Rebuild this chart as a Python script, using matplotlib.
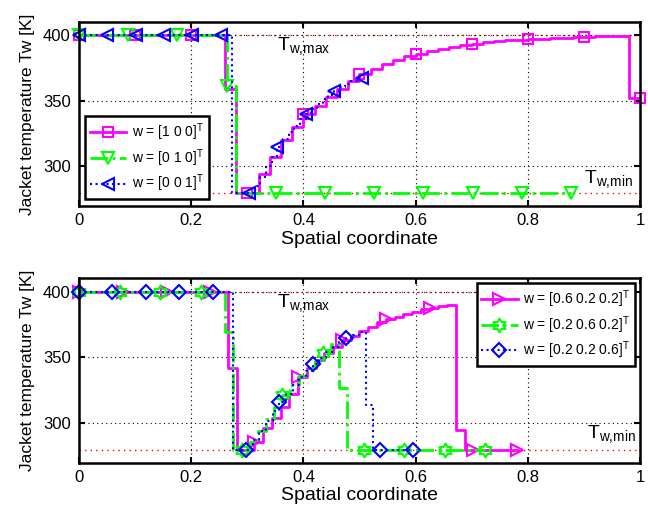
import numpy as np
import matplotlib
matplotlib.use('Agg')
import matplotlib.pyplot as plt
from matplotlib.path import Path

plt.rcParams['font.family'] = ['Liberation Sans', 'DejaVu Sans']
plt.rcParams['mathtext.fontset'] = 'custom'
plt.rcParams['mathtext.rm'] = 'Liberation Sans'
plt.rcParams['mathtext.it'] = 'Liberation Sans'
plt.rcParams['mathtext.default'] = 'regular'

T_MAX = 400
T_MIN = 280

# ---------------- top panel data (piecewise-constant, cell values) ----------------
top_m_den = 50   # grid divisions for w=[1 0 0]
top_m = [400, 400, 400, 400, 400, 400, 400, 400, 400, 400, 400, 400, 400,
         359, 280, 280, 294, 307.5, 320, 330, 339.5, 346, 352.5, 359, 365, 370,
         374, 378, 381, 384, 385.5, 387.5, 389.3, 390.6, 391.9, 393.2, 394.4,
         395.4, 395.9, 396.2, 396.5, 397, 397.4, 397.8, 398.2, 398.6, 398.9,
         399.1, 399.3, 352]

top_g_den = 57   # w=[0 1 0]
top_g = [400, 400, 400, 400, 400, 400, 400, 400, 400, 400, 400, 400, 400, 400, 400,
         361, 280, 280, 280, 280, 280, 280, 280, 280, 280, 280, 280, 280, 280, 280,
         280, 280, 280, 280, 280, 280, 280, 280, 280, 280, 280, 280, 280, 280, 280,
         280, 280, 280, 280, 280]

top_b_den = 99   # w=[0 0 1]
top_b = [400, 400, 400, 400, 400, 400, 400, 400, 400, 400, 400, 400, 400, 400, 400,
         400, 400, 400, 400, 400, 400, 400, 400, 400, 400, 400, 400,
         280, 280, 280, 280, 285, 292, 300, 307, 314.5, 320.5, 326, 331, 336, 340,
         344, 347.5, 351, 354.5, 357.5, 360.5, 363, 365, 367]

# ---------------- bottom panel data ----------------
bot_m_den = 64   # w=[0.6 0.2 0.2]
bot_m = [400, 400, 400, 400, 400, 400, 400, 400, 400, 400, 400, 400, 400, 400, 400,
         400, 400, 342, 280, 280, 286, 296, 304, 312, 322, 335, 342, 348, 353, 358,
         363, 366, 370, 373.4, 376.5, 379, 381, 382.8, 384.8, 387, 387.5, 389, 390,
         295, 280, 280, 280, 280, 280, 280]

bot_g_den = 69   # w=[0.2 0.6 0.2]
bot_g = [400, 400, 400, 400, 400, 400, 400, 400, 400, 400, 400, 400, 400, 400, 400,
         400, 400, 400, 369, 280, 280, 286, 294, 303, 312, 321.5, 329, 336, 342, 347.5,
         353, 360, 327, 280, 280, 280, 280, 280, 280, 280, 280, 280, 280, 280, 280,
         280, 280, 280, 280, 280]

bot_b_den = 84   # w=[0.2 0.2 0.6]
bot_b = [400, 400, 400, 400, 400, 400, 400, 400, 400, 400, 400, 400, 400, 400, 400,
         400, 400, 400, 400, 400, 400, 400, 400, 280, 280, 280, 287, 294, 302, 309,
         316, 322.5, 329, 335, 340, 345, 349.5, 354, 358, 361.5, 364.5, 367, 369,
         314, 280, 280, 280, 280, 280, 280]

top_labels = ['w = [1 0 0]$^T$', 'w = [0 1 0]$^T$', 'w = [0 0 1]$^T$']
bot_labels = ['w = [0.6 0.2 0.2]$^T$', 'w = [0.2 0.6 0.2]$^T$', 'w = [0.2 0.2 0.6]$^T$']
tmax_label = '$T_{w{,}max}$'
tmin_label = '$T_{w{,}min}$'

x_ticks = [0, 0.2, 0.4, 0.6, 0.8, 1]
x_ticklabels = ['0', '0.2', '0.4', '0.6', '0.8', '1']
y_ticks = [300, 350, 400]

MAG = '#ff00ff'
GRN = '#00ff00'
BLU = '#0000ff'

# MATLAB-style hexagram (six-pointed star outline)
_ang = np.deg2rad(90 + 30 * np.arange(12))
_rad = np.where(np.arange(12) % 2 == 0, 1.0, 1 / np.sqrt(3))
_verts = np.column_stack([_rad * np.cos(_ang), _rad * np.sin(_ang)])
_verts = np.vstack([_verts, _verts[:1]])
HEXAGRAM = Path(_verts, closed=True)


def stairs(ax, den, vals, **kw):
    x = np.arange(len(vals) + 1) / den
    y = np.append(vals, vals[-1])
    ax.plot(x, y, drawstyle='steps-post', markevery=5, clip_on=False, **kw)


def setup(ax):
    ax.set_xlim(0, 1)
    ax.set_ylim(270, 410)
    ax.set_xticks(x_ticks)
    ax.set_xticklabels(x_ticklabels)
    ax.set_yticks(y_ticks)
    ax.grid(True, color='black', linestyle=(0, (1, 3)), linewidth=0.8)
    ax.tick_params(direction='in', top=True, right=True, length=4, width=1.5,
                   labelsize=12)
    ax.tick_params(axis='x', pad=5)
    ax.tick_params(axis='y', pad=6)
    for s in ax.spines.values():
        s.set_linewidth(1.8)
    ax.axhline(T_MAX, color='red', linestyle=(0, (1, 3)), linewidth=1.0, zorder=1.5)
    ax.axhline(T_MIN, color='red', linestyle=(0, (1, 3)), linewidth=1.0, zorder=1.5)
    ax.set_xlabel('Spatial coordinate', fontsize=14, labelpad=2)
    ax.set_ylabel('Jacket temperature Tw [K]', fontsize=12.5, labelpad=6)


fig = plt.figure(figsize=(6.48, 5.12), dpi=100)
ax1 = fig.add_axes([0.1219, 0.5977, 0.8657, 0.36])
ax2 = fig.add_axes([0.1219, 0.0963, 0.8657, 0.36])

setup(ax1)
stairs(ax1, top_m_den, top_m, color=MAG, linestyle='-', linewidth=2,
       marker='s', markersize=7, markerfacecolor='none', markeredgewidth=1.5,
       label=top_labels[0])
stairs(ax1, top_g_den, top_g, color=GRN, linestyle='-.', linewidth=2,
       marker='v', markersize=9, markerfacecolor='none', markeredgewidth=1.5,
       label=top_labels[1])
stairs(ax1, top_b_den, top_b, color=BLU, linestyle=':', linewidth=1.5,
       marker='<', markersize=9, markerfacecolor='none', markeredgewidth=1.5,
       label=top_labels[2])
ax1.text(0.353, 388.6, tmax_label, fontsize=14, va='baseline')
ax1.text(0.901, 287.6, tmin_label, fontsize=14, va='baseline')
leg1 = ax1.legend(loc='lower left', bbox_to_anchor=(0.011, 0.036), borderaxespad=0,
                  fontsize=10, fancybox=False, framealpha=1, edgecolor='black',
                  handlelength=2.6, handletextpad=0.4, labelspacing=0.3,
                  borderpad=0.35)
leg1.get_frame().set_linewidth(1.8)

setup(ax2)
stairs(ax2, bot_m_den, bot_m, color=MAG, linestyle='-', linewidth=2,
       marker='>', markersize=9, markerfacecolor='none', markeredgewidth=1.5,
       label=bot_labels[0])
stairs(ax2, bot_g_den, bot_g, color=GRN, linestyle='-.', linewidth=2,
       marker=HEXAGRAM, markersize=10, markerfacecolor='none', markeredgewidth=1.5,
       label=bot_labels[1])
stairs(ax2, bot_b_den, bot_b, color=BLU, linestyle=':', linewidth=1.5,
       marker='D', markersize=7, markerfacecolor='none', markeredgewidth=1.5,
       label=bot_labels[2])
ax2.text(0.353, 388.6, tmax_label, fontsize=14, va='baseline')
ax2.text(0.905, 288.6, tmin_label, fontsize=14, va='baseline')
leg2 = ax2.legend(loc='upper right', bbox_to_anchor=(0.991, 0.973), borderaxespad=0,
                  fontsize=10, fancybox=False, framealpha=1, edgecolor='black',
                  handlelength=2.6, handletextpad=0.4, labelspacing=0.3,
                  borderpad=0.35)
leg2.get_frame().set_linewidth(1.8)

fig.savefig('out.png', dpi=100)
